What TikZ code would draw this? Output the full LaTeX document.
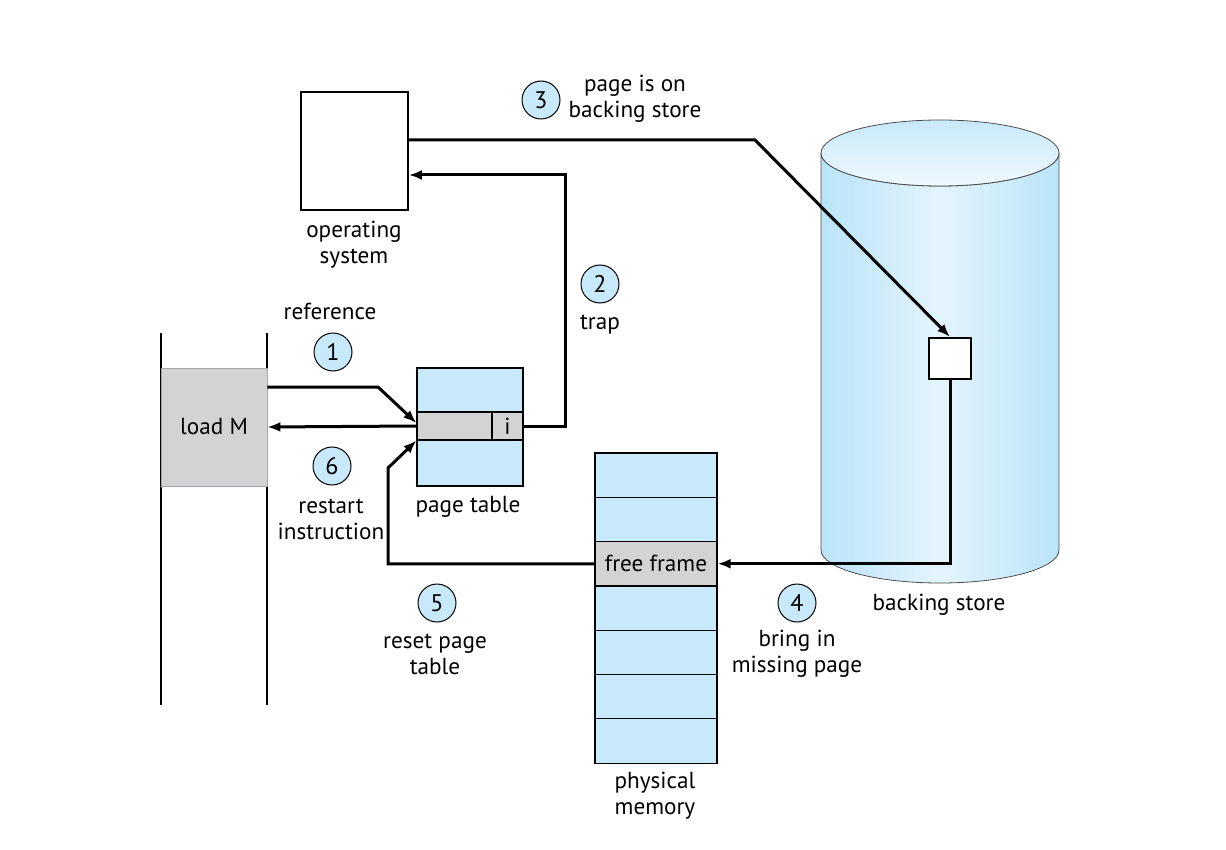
\documentclass[tikz,border=0pt]{standalone}
\usepackage{fontspec}
\setmainfont{PT Sans}
\usetikzlibrary{arrows.meta}
\tikzset{>={Latex[width=5pt,length=6.5pt]}}
\definecolor{TableBlue}{RGB}{199,233,250}
\definecolor{DiskBlue}{RGB}{186,228,248}
\definecolor{DiskPale}{RGB}{228,244,252}
\definecolor{RowGray}{RGB}{209,211,212}
\tikzset{
  arr/.style={->,line width=1.5pt},
  box/.style={rectangle,draw,line width=0.6pt,inner sep=0pt},
  stepnum/.style={circle,draw,line width=0.5pt,fill=TableBlue,minimum size=19pt,inner sep=0pt,font=\fontsize{12}{14}\selectfont},
  lbl/.style={align=center,inner sep=0pt},
}
\begin{document}
\begin{tikzpicture}[x=0.5pt,y=-0.5pt,font=\fontsize{11.6}{13}\selectfont]
		\useasboundingbox (0,0) rectangle (1226,850);

		% backing store
		\shade[left color=DiskBlue,right color=DiskBlue,middle color=DiskPale,draw=black!70,line width=0.4pt]
			(821,153) -- (821,550) arc[start angle=180,end angle=0,x radius=119,y radius=33]
			-- (1059,153) arc[start angle=0,end angle=180,x radius=119,y radius=33] -- cycle;
		\shade[top color=DiskBlue!80,bottom color=DiskPale!60,draw=black!70,line width=0.4pt]
			(940,153) ellipse[x radius=119,y radius=33];
		\node[box,fill=white,line width=1.1pt,minimum width=21pt,minimum height=20.5pt] (page) at (950,358.5) {};
		\node[lbl] (disklbl) at (939,605) {backing store};

		% operating system
		\node[box,fill=white,line width=0.9pt,minimum width=53.5pt,minimum height=59pt] (os) at (354.5,151) {};
		\node[lbl] (oslbl) at (354,245) {operating\\system};

		% program
		\draw[line width=0.6pt] (161,333) -- (161,705);
		\draw[line width=0.6pt] (267,333) -- (267,705);
		\node[rectangle,fill=RowGray,draw=black!35,line width=0.4pt,minimum width=53pt,minimum height=59pt] (loadm) at (214,427) {load M};

		% page table
		\node[box,fill=TableBlue,minimum width=53pt,minimum height=59pt] (ptable) at (470,427) {};
		\node[box,fill=RowGray,minimum width=53pt,minimum height=14pt] (ptrow) at (470,426) {};
		\node[box,fill=RowGray,minimum width=15.5pt,minimum height=14pt] (pti) at (507.5,426) {i};
		\node[lbl] (ptlbl) at (468,507) {page table};

		% physical memory
		\foreach \i in {1,...,7}
			\node[box,fill=TableBlue,minimum width=61pt,minimum height=22.15pt] (f\i) at (656,{453+44.3*(\i-0.5)}) {};
		\node[box,fill=RowGray,minimum width=61pt,minimum height=22.15pt] (free) at (f3) {free frame};
		\node[lbl] (memlbl) at (655,796) {physical\\memory};

		% steps
		\node[stepnum] (s1) at (333,352) {1};
		\node[lbl] (l1) at (330,311) {reference};
		\node[stepnum] (s2) at (600,284) {2};
		\node[lbl] (l2) at (600,325) {trap};
		\node[stepnum] (s3) at (541,100) {3};
		\node[lbl] (l3) at (635,99) {page is on\\backing store};
		\node[stepnum] (s4) at (797,603) {4};
		\node[lbl] (l4) at (797,654) {bring in\\missing page};
		\node[stepnum] (s5) at (437,603) {5};
		\node[lbl] (l5) at (435,654) {reset page\\table};
		\node[stepnum] (s6) at (332,466) {6};
		\node[lbl] (l6) at (331,519) {restart\\instruction};

		% connectors
		\coordinate (c1) at (378,387);
		\coordinate (c2) at (565,175);
		\coordinate (c3) at (755,140);
		\coordinate (c5) at (388,468);
		\draw[arr] (loadm.east |- c1) -- (c1) -- ([yshift=1.5pt]ptrow.west);
		\draw[arr] (pti.east) -| (c2) -- (os.east |- c2);
		\draw[arr] (os.east |- c3) -- (c3) -- (page.north);
		\draw[arr] (page.south) |- (free.east);
		\draw[arr] (free.west) -| (c5) -- (ptrow.south west);
		\draw[arr] (ptrow.west) -- (loadm.east);

	\end{tikzpicture}
\end{document}
